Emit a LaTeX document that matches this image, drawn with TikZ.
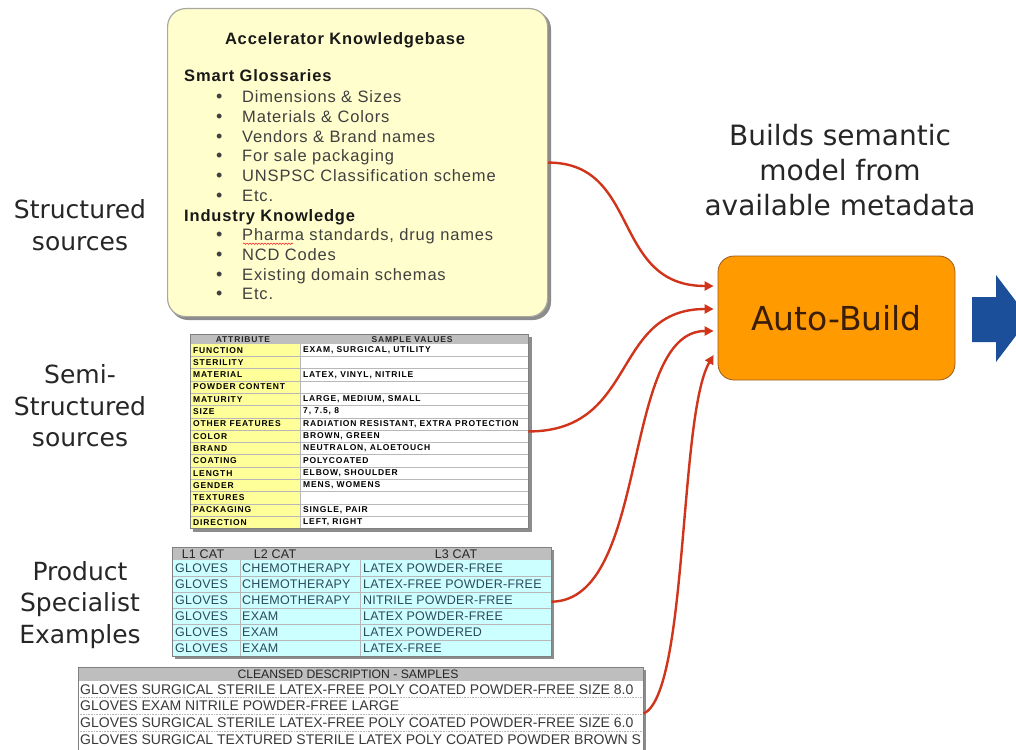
\documentclass[tikz,border=0pt]{standalone}
\usepackage{fontspec}
\setmainfont{Liberation Sans}
\newfontfamily\dvsans{DejaVu Sans}
\newfontfamily\kbfont[LetterSpace=5]{Liberation Sans}
\newfontfamily\attrfont[LetterSpace=10]{Liberation Sans}
\newfontfamily\catfont[LetterSpace=2]{Liberation Sans}
\usetikzlibrary{arrows.meta,calc,decorations.pathmorphing}
\definecolor{kbfill}{HTML}{FFFECC}
\definecolor{kbline}{HTML}{A8A8A0}
\definecolor{shadowgray}{HTML}{8C8C8C}
\definecolor{orangefill}{HTML}{FF9A00}
\definecolor{orangeline}{HTML}{9A5A20}
\definecolor{autotext}{HTML}{3B1E08}
\definecolor{arrowred}{HTML}{D0341A}
\definecolor{bluearrow}{HTML}{1B4F9A}
\definecolor{hdrgray}{HTML}{BEBEBE}
\definecolor{attryellow}{HTML}{FFFF99}
\definecolor{cyanfill}{HTML}{CCFFFF}
\definecolor{slatetext}{HTML}{2E4A5C}
\definecolor{gridgray}{HTML}{B8B8B8}
\definecolor{itemtext}{HTML}{404040}
\begin{document}
\begin{tikzpicture}[x=1pt,y=-1pt,
  srclabel/.style={font=\dvsans\fontsize{25}{31.5}\selectfont, align=center, text=black!85, inner sep=0},
  buildlbl/.style={font=\dvsans\fontsize{28}{35}\selectfont, align=center, text=black!85, inner sep=0},
  kbtitle/.style={font=\kbfont\bfseries\fontsize{16.5}{19}\selectfont, text=black!90, inner sep=0},
  kbhead/.style={font=\kbfont\bfseries\fontsize{16.5}{19}\selectfont, text=black!90, anchor=base west, inner sep=0},
  kbitem/.style={font=\kbfont\fontsize{16.5}{19}\selectfont, text=itemtext, anchor=base west, inner sep=0},
  kbbullet/.style={font=\fontsize{18}{19}\selectfont, text=itemtext, anchor=base west, inner sep=0},
  attrtxt/.style={font=\attrfont\bfseries\fontsize{8.5}{9}\selectfont, text=black, anchor=west, inner sep=0},
  attrhdr/.style={font=\attrfont\bfseries\fontsize{8.5}{9}\selectfont, text=black!85, inner sep=0},
  cattxt/.style={font=\catfont\fontsize{12.5}{14}\selectfont, text=slatetext, anchor=west, inner sep=0},
  cathdr/.style={font=\catfont\fontsize{12.5}{14}\selectfont, text=black!85, inner sep=0},
  cltxt/.style={font=\fontsize{14}{15}\selectfont, text=black!78, anchor=west, inner sep=0},
  frame/.style={inner sep=0, anchor=north west},
  conn/.style={draw=arrowred, line width=2.4pt, -{Triangle[length=9pt,width=9pt]}},
  gridline/.style={draw=gridgray, line width=0.6pt}
]
\useasboundingbox (0,0) rectangle (1016,749);
\clip (0,0) rectangle (1016,749);

% ---------- Knowledgebase box ----------
\fill[shadowgray, rounded corners=18pt] (170,11) rectangle (551,320);
\node[frame, draw=kbline, line width=1.2pt, fill=kbfill, rounded corners=18pt,
      minimum width=380pt, minimum height=308pt] (kb) at (167,8) {};
\node[kbtitle] (kbt) at (345,40) {Accelerator Knowledgebase};
\node[kbhead] (sg) at (184,82) {Smart Glossaries};
\foreach \t [count=\i] in {Dimensions \& Sizes, Materials \& Colors, Vendors \& Brand names, For sale packaging, UNSPSC Classification scheme, Etc.} {
  \node[kbbullet] (sgb\i) at (216,{83+19.7*\i}) {\textbullet};
  \node[kbitem] (sgi\i) at (242,{83+19.7*\i}) {\t};
}
\node[kbhead] (ik) at (184,221) {Industry Knowledge};
\foreach \t [count=\i] in {{Pharma standards, drug names}, NCD Codes, Existing domain schemas, Etc.} {
  \node[kbbullet] (ikb\i) at (216,{221+19.7*\i}) {\textbullet};
  \node[kbitem] (iki\i) at (242,{221+19.7*\i}) {\t};
}
\draw[red!80, line width=0.6pt, decorate, decoration={snake, amplitude=0.7pt, segment length=3pt}]
  ($(iki1.base west)+(1,3)$) -- ++(50,0);

% ---------- left labels ----------
\node[srclabel] (lstruct) at (80,225) {Structured\\sources};
\node[srclabel] (lsemi) at (80,406) {Semi-\\Structured\\sources};
\node[srclabel] (lprod) at (80,605) {Product\\Specialist\\Examples};

% ---------- right side ----------
\node[buildlbl] (builds) at (840,170) {Builds semantic\\model from\\available metadata};
\node[draw=orangeline, line width=0.8pt, fill=orangefill, rounded corners=16pt,
      minimum width=237pt, minimum height=124pt, inner sep=0,
      font=\dvsans\fontsize{33}{36}\selectfont, text=autotext] (auto) at (836.5,318) {Auto-Build};
\fill[bluearrow] (972,297) -- (996,297) -- (996,275) -- (1029,318.5) -- (996,362) -- (996,342) -- (972,342) -- cycle;

% ---------- attribute table ----------
\fill[shadowgray] (193,337) rectangle (531.5,531.5);
\fill[hdrgray] (190,334) rectangle (528,344);
\fill[attryellow] (190,344) rectangle (300,528.5);
\fill[white] (300,344) rectangle (528,528.5);
\foreach \k in {1,...,14} \draw[gridline] (190,{344+12.3*\k}) -- (528,{344+12.3*\k});
\draw[gridline] (300,344) -- (300,528.5);
\draw[gray, line width=0.6pt] (190,334) rectangle (528,528.5);
\node[frame, minimum width=338pt, minimum height=194.5pt] (attr) at (190,334) {};
\node[attrhdr] (ah1) at (243,339.5) {ATTRIBUTE};
\node[attrhdr] (ah2) at (412,339.5) {SAMPLE VALUES};
\foreach \a/\b [count=\i] in {FUNCTION/{EXAM, SURGICAL, UTILITY}, STERILITY/{}, MATERIAL/{LATEX, VINYL, NITRILE}, POWDER CONTENT/{}, MATURITY/{LARGE, MEDIUM, SMALL}, SIZE/{7, 7.5, 8}, OTHER FEATURES/{RADIATION RESISTANT, EXTRA PROTECTION}, COLOR/{BROWN, GREEN}, BRAND/{NEUTRALON, ALOETOUCH}, COATING/{POLYCOATED}, LENGTH/{ELBOW, SHOULDER}, GENDER/{MENS, WOMENS}, TEXTURES/{}, PACKAGING/{SINGLE, PAIR}, DIRECTION/{LEFT, RIGHT}} {
  \node[attrtxt] (al\i) at (193,{344+12.3*\i-6.15}) {\a};
  \node[attrtxt] (ar\i) at (303,{344+12.3*\i-6.15}) {\b};
}

% ---------- category table ----------
\fill[shadowgray] (175,550) rectangle (554,659);
\fill[hdrgray] (172,547) rectangle (551,560);
\fill[cyanfill] (172,560) rectangle (551,656);
\foreach \k in {1,...,5} \draw[gridline] (172,{560+16*\k}) -- (551,{560+16*\k});
\draw[gridline] (240,560) -- (240,656);
\draw[gridline] (360,560) -- (360,656);
\draw[gray, line width=0.6pt] (172,547) rectangle (551,656);
\node[frame, minimum width=379pt, minimum height=109pt] (lcat) at (172,547) {};
\node[cathdr] (ch1) at (203,554) {L1 CAT};
\node[cathdr] (ch2) at (275,554) {L2 CAT};
\node[cathdr] (ch3) at (456,554) {L3 CAT};
\foreach \p/\q/\r [count=\i] in {GLOVES/CHEMOTHERAPY/LATEX POWDER-FREE, GLOVES/CHEMOTHERAPY/LATEX-FREE POWDER-FREE, GLOVES/CHEMOTHERAPY/NITRILE POWDER-FREE, GLOVES/EXAM/LATEX POWDER-FREE, GLOVES/EXAM/LATEX POWDERED, GLOVES/EXAM/LATEX-FREE} {
  \node[cattxt] (c1\i) at (175,{560+16*\i-8}) {\p};
  \node[cattxt] (c2\i) at (242,{560+16*\i-8}) {\q};
  \node[cattxt] (c3\i) at (363,{560+16*\i-8}) {\r};
}

% ---------- cleansed description table ----------
\fill[shadowgray] (81,670) rectangle (646,760);
\fill[hdrgray] (78,667) rectangle (643,681);
\fill[white] (78,681) rectangle (643,760);
\foreach \yy in {697.5,714,731} \draw[gridgray, line width=0.6pt, densely dotted] (78,\yy) -- (643,\yy);
\draw[gray, line width=0.6pt] (78,760) -- (78,667) -- (643,667) -- (643,760);
\node[frame, minimum width=565pt, minimum height=93pt] (cl) at (78,667) {};
\node[cathdr, font=\fontsize{12.2}{14}\selectfont] (clh) at (348,674) {CLEANSED DESCRIPTION - SAMPLES};
\begin{scope}
\clip (78,681) rectangle (641,760);
\foreach \t [count=\i] in {GLOVES SURGICAL STERILE LATEX-FREE POLY COATED POWDER-FREE SIZE 8.0, GLOVES EXAM NITRILE POWDER-FREE LARGE, GLOVES SURGICAL STERILE LATEX-FREE POLY COATED POWDER-FREE SIZE 6.0, GLOVES SURGICAL TEXTURED STERILE LATEX POLY COATED POWDER BROWN SMALL} {
  \node[cltxt] (cl\i) at (80,{672.5+16.8*\i}) {\t};
}
\end{scope}

% ---------- connectors ----------
\coordinate (in1) at ($(auto.west)+(-4,-32)$);
\coordinate (in2) at ($(auto.west)+(-4,-9)$);
\coordinate (in3) at ($(auto.west)+(-4,13)$);
\coordinate (in4) at ($(auto.west)+(-4,37)$);
\draw[conn] (kb.east) .. controls +(93,0) and +(-103,0) .. (in1);
\draw[conn] (attr.east) .. controls +(110,0) and +(-103,0) .. (in2);
\draw[conn] (lcat.east) .. controls +(99,-1) and +(-93,0) .. (in3);
\draw[conn] (cl.east) .. controls +(45,-20) and +(-35,60) .. (in4);
\end{tikzpicture}
\end{document}
